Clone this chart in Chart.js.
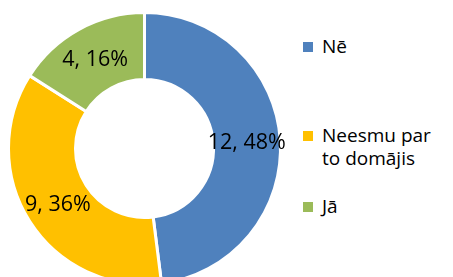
<!DOCTYPE html>
<html>
<head>
<meta charset="utf-8">
<script src="https://cdn.jsdelivr.net/npm/chart.js@4/dist/chart.umd.min.js"></script>
<style>
  html, body { margin: 0; padding: 0; background: #fff; width: 453px; height: 277px; overflow: hidden; }
  #wrap { position: relative; width: 453px; height: 277px; overflow: hidden; }
  #c { position: absolute; left: 0; top: 0; }
  #legend { position: absolute; left: 303px; top: 0; font-family: "Open Sans", "Noto Sans", sans-serif; font-size: 19px; line-height: 23px; color: #000; }
  .item { position: absolute; left: 0; white-space: nowrap; }
  .sw { position: absolute; left: 0; width: 10px; height: 10px; top: 7px; }
  .txt { position: absolute; left: 19px; top: 0; }
</style>
</head>
<body>
<div id="wrap">
  <canvas id="c" width="289" height="297"></canvas>
  <div id="legend"></div>
</div>
<script>
const categories = ["Nē", "Neesmu par to domājis", "Jā"];
const legendLines = [["Nē"], ["Neesmu par", "to domājis"], ["Jā"]];
const values = [12, 9, 4];
const colors = ["#4F81BD", "#FFC000", "#9BBB59"];
const legendTops = [35, 124, 195];

const total = values.reduce((a, b) => a + b, 0);

const labelPlugin = {
  id: 'sliceLabels',
  afterDatasetsDraw(chart) {
    const ctx = chart.ctx;
    const meta = chart.getDatasetMeta(0);
    ctx.save();
    ctx.font = '21.5px "Open Sans", "Noto Sans", sans-serif';
    ctx.fillStyle = '#000';
    ctx.textAlign = 'center';
    ctx.textBaseline = 'middle';
    meta.data.forEach((arc, i) => {
      const p = arc.getCenterPoint();
      const v = values[i];
      const pct = Math.round(v / total * 100);
      ctx.fillText(v + ', ' + pct + '%', p.x, p.y + 1);
    });
    ctx.restore();
  }
};

new Chart(document.getElementById('c'), {
  type: 'doughnut',
  data: {
    labels: categories,
    datasets: [{
      data: values,
      backgroundColor: colors,
      borderColor: '#fff',
      borderWidth: 3
    }]
  },
  options: {
    responsive: false,
    animation: false,
    radius: 136,
    cutout: 67.5,
    layout: { padding: 10 },
    plugins: { legend: { display: false }, tooltip: { enabled: false } }
  },
  plugins: [labelPlugin]
});

const lg = document.getElementById('legend');
legendLines.forEach((lines, i) => {
  const it = document.createElement('div');
  it.className = 'item';
  it.style.top = legendTops[i] + 'px';
  const sw = document.createElement('div');
  sw.className = 'sw';
  sw.style.background = colors[i];
  const t = document.createElement('div');
  t.className = 'txt';
  t.innerHTML = lines.join('<br>');
  it.appendChild(sw);
  it.appendChild(t);
  lg.appendChild(it);
});
</script>
</body>
</html>
